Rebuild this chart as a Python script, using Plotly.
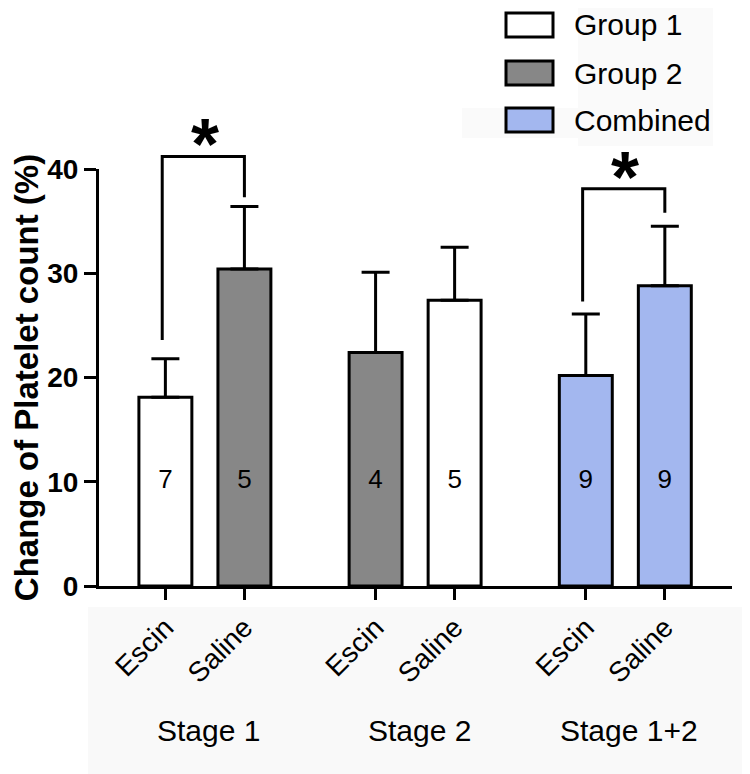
import plotly.graph_objects as go

# ---------------- data ----------------
stages = ["Stage 1", "Stage 2", "Stage 1+2"]
treatments = ["Escin", "Saline"]
bar_labels = ["Escin", "Saline", "Escin", "Saline", "Escin", "Saline"]
means = [18.1, 30.4, 22.4, 27.4, 20.2, 28.8]
sem_upper = [3.7, 6.0, 7.7, 5.1, 5.9, 5.7]
n_values = ["7", "5", "4", "5", "9", "9"]
bar_groups = ["Group 1", "Group 2", "Group 2", "Group 1", "Combined", "Combined"]
legend_items = ["Group 1", "Group 2", "Combined"]
y_ticks = [0, 10, 20, 30, 40]
y_max = 40
# significance brackets: (left bar index, right bar index, left foot, top, right foot)
brackets = [(0, 1, 23.6, 41.2, 37.3), (4, 5, 27.3, 38.1, 35.8)]

# ---------------- style ----------------
colors = {"Group 1": "#ffffff", "Group 2": "#878787", "Combined": "#a3b7ef"}
FONT = "Liberation Sans, Arial, sans-serif"
OFF = 8  # browser default body margin
W, H = 750 - OFF, 774 - OFF
L, T = 99 - OFF, 169 - OFF
PW, PH = 633, 417
R, B = W - L - PW, H - T - PH

# positions computed from group structure
group_gap = 2.66
inner = 1.0
xpos = [g * group_gap + t * inner for g in range(len(stages)) for t in range(len(treatments))]
group_centers = [g * group_gap + inner / 2 for g in range(len(stages))]


def px_x(px):
    return (px - OFF - L) / PW


def px_y(py):
    return (T + PH - (py - OFF)) / PH


def yp(v):
    return v / y_max


fig = go.Figure()

fig.add_trace(go.Bar(
    x=xpos, y=means, width=0.67,
    marker=dict(color=[colors[g] for g in bar_groups], line=dict(color="black", width=3)),
    error_y=dict(type="data", symmetric=False, array=sem_upper,
                 arrayminus=[0] * len(means), color="black", thickness=3, width=14),
    showlegend=False, hoverinfo="skip",
))

fig.add_trace(go.Scatter(
    x=xpos, y=[10] * len(xpos), mode="text", text=n_values,
    textfont=dict(family=FONT, size=26, color="black"),
    textposition="middle center", showlegend=False, hoverinfo="skip", cliponaxis=False,
))

shapes = []
annotations = []

# faint background patches (scanned-figure look)
shapes.append(dict(type="rect", xref="paper", yref="paper", x0=px_x(88), x1=px_x(760),
                   y0=px_y(790), y1=px_y(607), fillcolor="#f9f9f9", line_width=0, layer="below"))
shapes.append(dict(type="rect", xref="paper", yref="paper", x0=px_x(578), x1=px_x(713),
                   y0=px_y(146), y1=px_y(-10), fillcolor="#fafafa", line_width=0, layer="below"))
shapes.append(dict(type="rect", xref="paper", yref="paper", x0=px_x(462), x1=px_x(578),
                   y0=px_y(138), y1=px_y(108), fillcolor="#fafafa", line_width=0, layer="below"))

# significance brackets
for (i, j, yl, yt, yr) in brackets:
    xl, xr = xpos[i] - 0.04, xpos[j]
    path = f"M {xl},{yp(yl)} L {xl},{yp(yt)} L {xr},{yp(yt)} L {xr},{yp(yr)}"
    shapes.append(dict(type="path", path=path, xref="x", yref="paper",
                       line=dict(color="black", width=3)))
    annotations.append(dict(x=(xl + xr) / 2 + 0.02, y=yp(yt), xref="x", yref="paper", text="*",
                            showarrow=False, yanchor="bottom", yshift=-30,
                            font=dict(family=FONT, size=72, color="black", weight="bold")))

# legend (manual)
leg_rows = [25, 73, 120]
for name, cy in zip(legend_items, leg_rows):
    shapes.append(dict(type="rect", xref="paper", yref="paper",
                       x0=px_x(506), x1=px_x(553), y0=px_y(cy + 12), y1=px_y(cy - 12),
                       fillcolor=colors[name], line=dict(color="black", width=3)))
    annotations.append(dict(x=px_x(572), y=px_y(cy), xref="paper", yref="paper",
                            text=name, showarrow=False, xanchor="left", yanchor="middle",
                            font=dict(family=FONT, size=30, color="black")))

# stage labels
for s, gc in zip(stages, group_centers):
    annotations.append(dict(x=gc + 0.05, y=px_y(730), xref="x", yref="paper", text=s,
                            showarrow=False, xanchor="center", yanchor="middle",
                            font=dict(family=FONT, size=30, color="black")))

fig.update_layout(
    width=W, height=H,
    margin=dict(l=L, r=R, t=T, b=B, autoexpand=False),
    paper_bgcolor="white", plot_bgcolor="white",
    shapes=shapes, annotations=annotations,
    showlegend=False,
    xaxis=dict(range=[-0.84, 7.17], tickvals=xpos, ticktext=bar_labels, tickangle=-45,
               showline=True, linecolor="black", linewidth=3, ticks="outside",
               ticklen=11, tickwidth=3, tickcolor="black", showgrid=False, zeroline=False,
               tickfont=dict(family=FONT, size=28, color="black")),
    yaxis=dict(range=[0, y_max], tickvals=y_ticks, showline=True, linecolor="black",
               linewidth=3, ticks="outside", ticklen=12, tickwidth=3, tickcolor="black",
               showgrid=False, zeroline=False,
               tickfont=dict(family=FONT, size=28, color="black", weight="bold"),
               title=dict(text="Change of Platelet count (%)", standoff=6,
                          font=dict(family=FONT, size=33, color="black", weight="bold"))),
)

fig.write_html("out.html")
